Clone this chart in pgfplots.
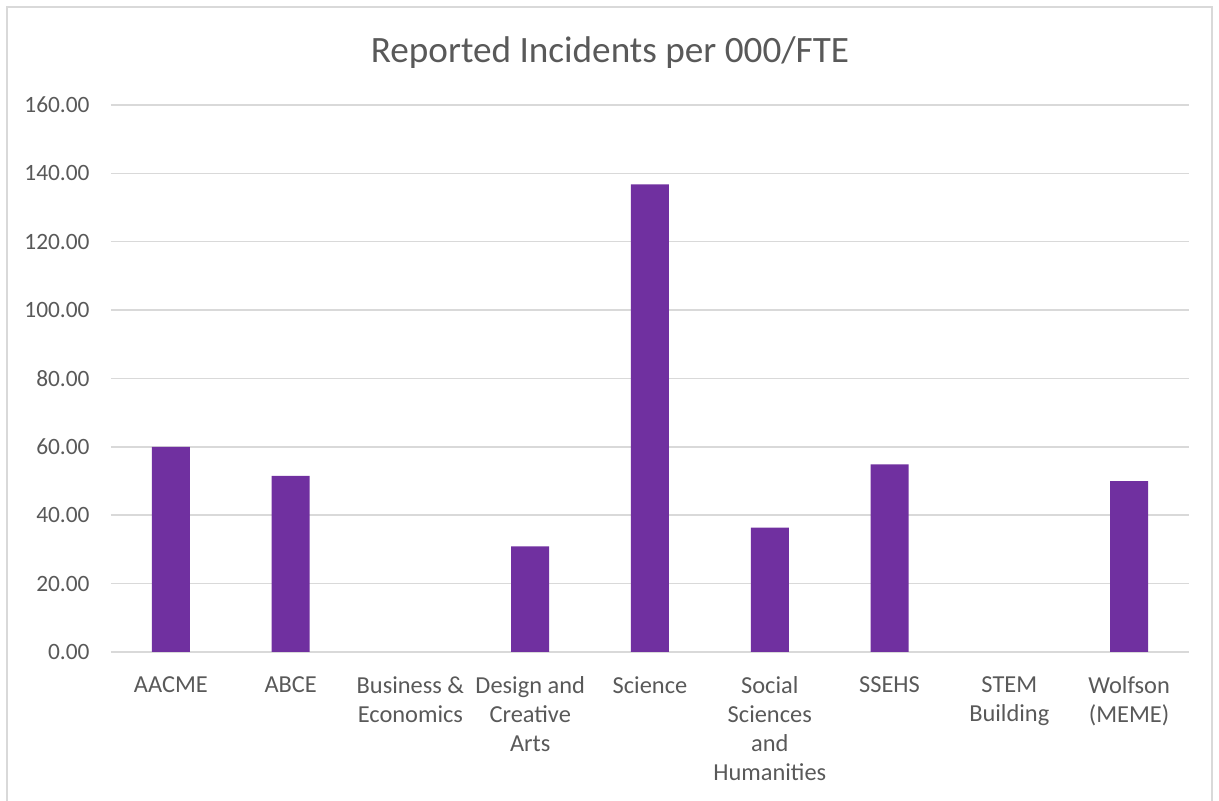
\documentclass[border=0pt]{standalone}
\usepackage{fontspec}
\setmainfont{Carlito}
\usepackage{pgfplots}
\pgfplotsset{compat=1.18}
\definecolor{barpurple}{HTML}{7030A0}
\definecolor{gridgray}{HTML}{D9D9D9}
\definecolor{labelgray}{HTML}{595959}
\begin{document}
\begin{tikzpicture}
% page frame, 1px = 0.5pt, origin at the lower-left of the plot area
\useasboundingbox (-55.5pt,-74.5pt) rectangle (554pt,326pt);
\draw[gridgray, line width=0.75pt] (-52pt,-76pt) rectangle (550.5pt,322.5pt);
\begin{axis}[
    at={(0,0)}, anchor=south west,
    scale only axis,
    width=539pt, height=273.5pt,
    ybar, bar width=19pt,
    xmin=-0.5, xmax=8.5,
    ymin=0, ymax=160,
    ytick={0,20,...,160},
    yticklabel={\pgfmathprintnumber[fixed,fixed zerofill,precision=2]{\tick}},
    /pgf/number format/assume math mode=true,
    xtick={0,...,8},
    xticklabels={
        AACME,
        ABCE,
        {Business \&\\Economics},
        {Design and\\Creative\\Arts},
        Science,
        {Social\\Sciences\\and\\Humanities},
        SSEHS,
        {STEM\\Building},
        {Wolfson\\(MEME)}
    },
    ymajorgrids,
    grid style={gridgray, line width=0.75pt},
    axis line style={draw=none},
    major tick style={draw=none},
    tick label style={font=\fontsize{11.7}{14.5}\selectfont, text=labelgray},
    y tick label style={anchor=east, inner sep=0pt, xshift=-10.5pt},
    x tick label style={anchor=north, inner sep=0pt, yshift=-8pt, align=center,
        font=\fontsize{12.2}{14.5}\selectfont},
    unbounded coords=discard,
    y filter/.expression={y==0 ? nan : y},
]
\addplot[fill=barpurple, draw=none] coordinates {
    (0, 60.0)
    (1, 51.5)
    (2, 0)
    (3, 30.9)
    (4, 136.8)
    (5, 36.4)
    (6, 54.9)
    (7, 0)
    (8, 50.0)
};
\end{axis}
\node[font=\fontsize{18.6}{22}\selectfont, text=labelgray] at (249.5pt,299.5pt) {Reported Incidents per 000/FTE};
\end{tikzpicture}
\end{document}
